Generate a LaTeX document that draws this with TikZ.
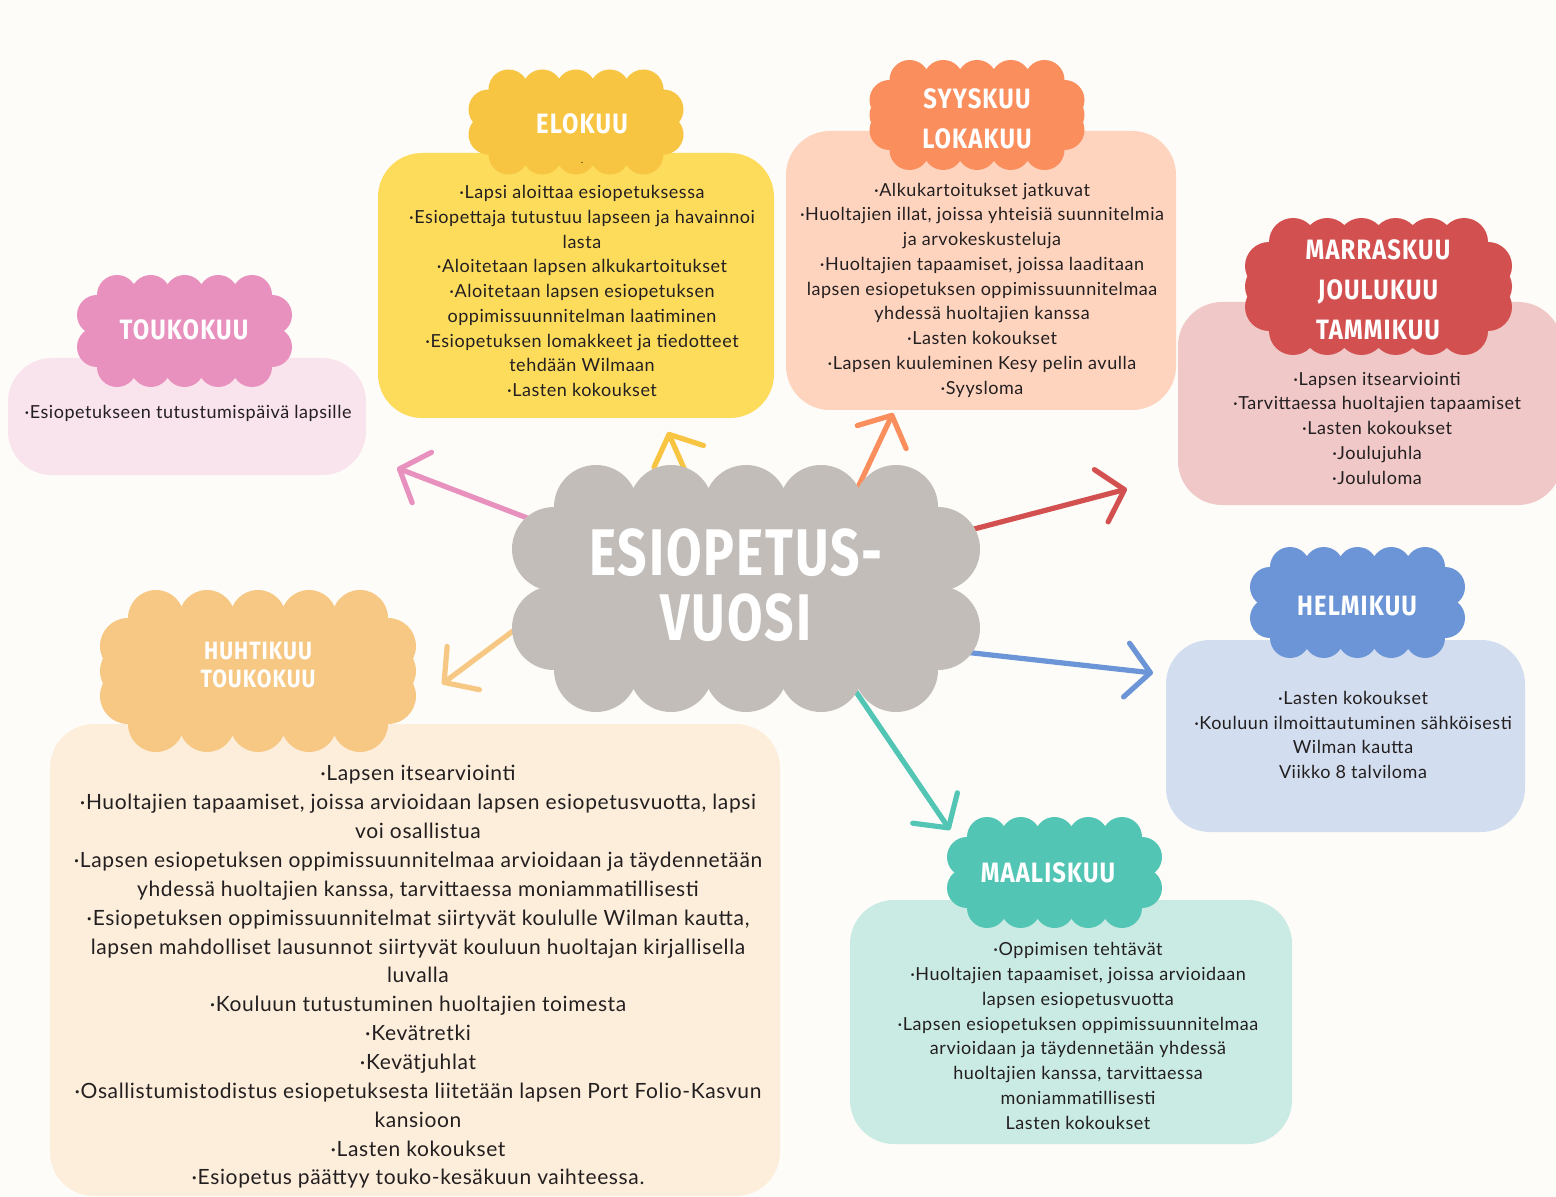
\documentclass[tikz,border=0pt]{standalone}
\usepackage{fontspec}
\setmainfont[LetterSpace=3]{Lato}
\newfontfamily\headfont[FakeStretch=0.85,LetterSpace=4]{Fira Sans}
\newfontfamily\titlefont[FakeStretch=0.78,LetterSpace=3]{Fira Sans}
\usetikzlibrary{arrows.meta}

\definecolor{paper}{HTML}{FDFCF8}
\definecolor{ink}{HTML}{231F20}
\definecolor{greyc}{HTML}{C2BDB9}
\definecolor{pinkc}{HTML}{E891BE}  \definecolor{pinkbox}{HTML}{F9E3EC}
\definecolor{yellowc}{HTML}{F8C543}\definecolor{yellowbox}{HTML}{FDDC5C}
\definecolor{orangec}{HTML}{FA8E5D}\definecolor{orangebox}{HTML}{FFD4BF}
\definecolor{redc}{HTML}{D35050}   \definecolor{redbox}{HTML}{F0C8C8}
\definecolor{bluec}{HTML}{6B95D6}  \definecolor{bluebox}{HTML}{D2DEEF}
\definecolor{tealc}{HTML}{52C5B5}  \definecolor{tealbox}{HTML}{CAEBE3}
\definecolor{apricotc}{HTML}{F7C883}\definecolor{apricotbox}{HTML}{FDEEDB}

% scalloped cloud: colour, cx, cy, width, height, bump radius, bumps on top, bumps on side
\newcommand{\blob}[8]{%
  \pgfmathsetmacro\blobA{#4/2-#6}%
  \pgfmathsetmacro\blobB{#5/2-#6}%
  \pgfmathsetmacro\blobX{\blobA-#6}%
  \pgfmathsetmacro\blobY{\blobB-#6}%
  \pgfmathsetmacro\blobR{#6/2}%
  \fill[#1] ({#2-\blobA},{#3-\blobB}) rectangle ({#2+\blobA},{#3+\blobB});
  \foreach \i in {1,...,#7}
    \fill[#1] ({#2-\blobX+(\i-1)*2*\blobX/(#7-1)},{#3-\blobB}) circle (\blobR pt)
              ({#2-\blobX+(\i-1)*2*\blobX/(#7-1)},{#3+\blobB}) circle (\blobR pt);
  \foreach \j in {1,...,#8}
    \fill[#1] ({#2-\blobA},{#3-\blobY+(\j-1)*2*\blobY/(#8-1)}) circle (\blobR pt)
              ({#2+\blobA},{#3-\blobY+(\j-1)*2*\blobY/(#8-1)}) circle (\blobR pt);
}

\begin{document}
\begin{tikzpicture}[x=0.5pt,y=-0.5pt,
  month/.style={font=\headfont\bfseries\fontsize{14}{20}\selectfont,text=white,align=center},
  items/.style={font=\fontsize{9}{12.375}\selectfont,text=ink,align=center,inner sep=0pt},
  arr/.style={line width=2.6pt,line cap=round,-{Straight Barb[length=12pt,width=27pt,round]}}]
\fill[paper] (0,0) rectangle (1556,1197);
\useasboundingbox (0,0) rectangle (1556,1197);

% boxes
\fill[pinkbox,rounded corners=22pt] (8,358) rectangle (366,475);
\fill[yellowbox,rounded corners=22pt] (378,153) rectangle (774,418);
\fill[orangebox,rounded corners=22pt] (786,131) rectangle (1176,410);
\fill[redbox,rounded corners=22pt] (1178,302) rectangle (1562,505);
\fill[bluebox,rounded corners=22pt] (1166,640) rectangle (1525,832);
\fill[tealbox,rounded corners=22pt] (850,900) rectangle (1292,1144);
\fill[apricotbox,rounded corners=22pt] (50,724) rectangle (780,1196);

% arrows
\coordinate (pinkS) at (556,529);    \coordinate (pinkT) at (397,468);
\coordinate (yellowS) at (690,482);  \coordinate (yellowT) at (668,432);
\coordinate (orangeS) at (853,498);  \coordinate (orangeT) at (893,413);
\coordinate (redS) at (955,534);     \coordinate (redT) at (1127,489);
\coordinate (blueS) at (955,651);    \coordinate (blueT) at (1153,673);
\coordinate (tealS) at (850,683);    \coordinate (tealT) at (950,830);
\coordinate (apricotS) at (525,622); \coordinate (apricotT) at (442,684);
\foreach \c in {pink,yellow,orange,red,blue,teal,apricot}
  \draw[arr,\c c] (\c S) -- (\c T);

% centre
\blob{greyc}{746}{588.5}{468}{247}{42}{5}{2}
\node[font=\titlefont\bfseries\fontsize{33}{32.5}\selectfont,text=white,align=center]
  (vuosi) at (736,585) {ESIOPETUS-\\VUOSI};

% months
\blob{pinkc}{184.5}{331}{215}{112}{20}{5}{2}
\node[month] (toukokuu) at (184,330) {TOUKOKUU};
\node[items] (toukokuuList) at (188,413) {·Esiopetukseen tutustumispäivä lapsille};

\blob{yellowc}{576}{122}{215}{105}{20}{5}{2}
\node[month] (elokuu) at (582,124) {ELOKUU};
\node[items,font=\fontsize{5}{5}\selectfont] (eloDot) at (582,163) {.};
\node[items] (elokuuList) at (582,291) {·Lapsi aloittaa esiopetuksessa\\
  ·Esiopettaja tutustuu lapseen ja havainnoi\\lasta\\
  ·Aloitetaan lapsen alkukartoitukset\\·Aloitetaan lapsen esiopetuksen\\
  oppimissuunnitelman laatiminen\\·Esiopetuksen lomakkeet ja tiedotteet\\
  tehdään Wilmaan\\·Lasten kokoukset};

\blob{orangec}{977}{115}{215}{110}{20}{5}{3}
\node[month] (syyskuu) at (977,119) {SYYSKUU\\LOKAKUU};
\node[items] (syyskuuList) at (982,290) {·Alkukartoitukset jatkuvat\\
  ·Huoltajien illat, joissa yhteisiä suunnitelmia\\ja arvokeskusteluja\\
  ·Huoltajien tapaamiset, joissa laaditaan\\lapsen esiopetuksen oppimissuunnitelmaa\\
  yhdessä huoltajien kanssa\\·Lasten kokoukset\\
  ·Lapsen kuuleminen Kesy pelin avulla\\·Syysloma};

\blob{redc}{1378.5}{286.5}{267}{137}{24}{6}{3}
\node[month] (marraskuu) at (1378,290) {MARRASKUU\\JOULUKUU\\TAMMIKUU};
\node[items] (marraskuuList) at (1377,428) {·Lapsen itsearviointi\\
  ·Tarvittaessa huoltajien tapaamiset\\·Lasten kokoukset\\·Joulujuhla\\·Joululoma};

\blob{bluec}{1357.5}{602.5}{215}{111}{20}{5}{2}
\node[month] (helmikuu) at (1357,606) {HELMIKUU};
\node[items] (helmikuuList) at (1353,735) {·Lasten kokoukset\\
  ·Kouluun ilmoittautuminen sähköisesti\\Wilman kautta\\Viikko 8 talviloma};

\blob{tealc}{1054.5}{872.5}{215}{111}{20}{5}{2}
\node[month] (maaliskuu) at (1048,873) {MAALISKUU};
\node[items] (maaliskuuList) at (1078,1036) {·Oppimisen tehtävät\\
  ·Huoltajien tapaamiset, joissa arvioidaan\\lapsen esiopetusvuotta\\
  ·Lapsen esiopetuksen oppimissuunnitelmaa\\arvioidaan ja täydennetään yhdessä\\
  huoltajien kanssa, tarvittaessa\\moniammatillisesti\\Lasten kokoukset};

\blob{apricotc}{258}{671}{316}{162}{28}{5}{3}
\node[month,font=\headfont\bfseries\fontsize{12.5}{14}\selectfont] (huhtikuu) at (258,665)
  {HUHTIKUU\\TOUKOKUU};
\node[items,font=\fontsize{10.5}{14.43}\selectfont] (huhtikuuList) at (418,977) {·Lapsen itsearviointi\\
  ·Huoltajien tapaamiset, joissa arvioidaan lapsen esiopetusvuotta, lapsi\\voi osallistua\\
  ·Lapsen esiopetuksen oppimissuunnitelmaa arvioidaan ja täydennetään\\
  yhdessä huoltajien kanssa, tarvittaessa moniammatillisesti\\
  ·Esiopetuksen oppimissuunnitelmat siirtyvät koululle Wilman kautta,\\
  lapsen mahdolliset lausunnot siirtyvät kouluun huoltajan kirjallisella\\luvalla\\
  ·Kouluun tutustuminen huoltajien toimesta\\·Kevätretki\\·Kevätjuhlat\\
  ·Osallistumistodistus esiopetuksesta liitetään lapsen Port Folio-Kasvun\\kansioon\\
  ·Lasten kokoukset\\·Esiopetus päättyy touko-kesäkuun vaihteessa.};
\end{tikzpicture}
\end{document}
